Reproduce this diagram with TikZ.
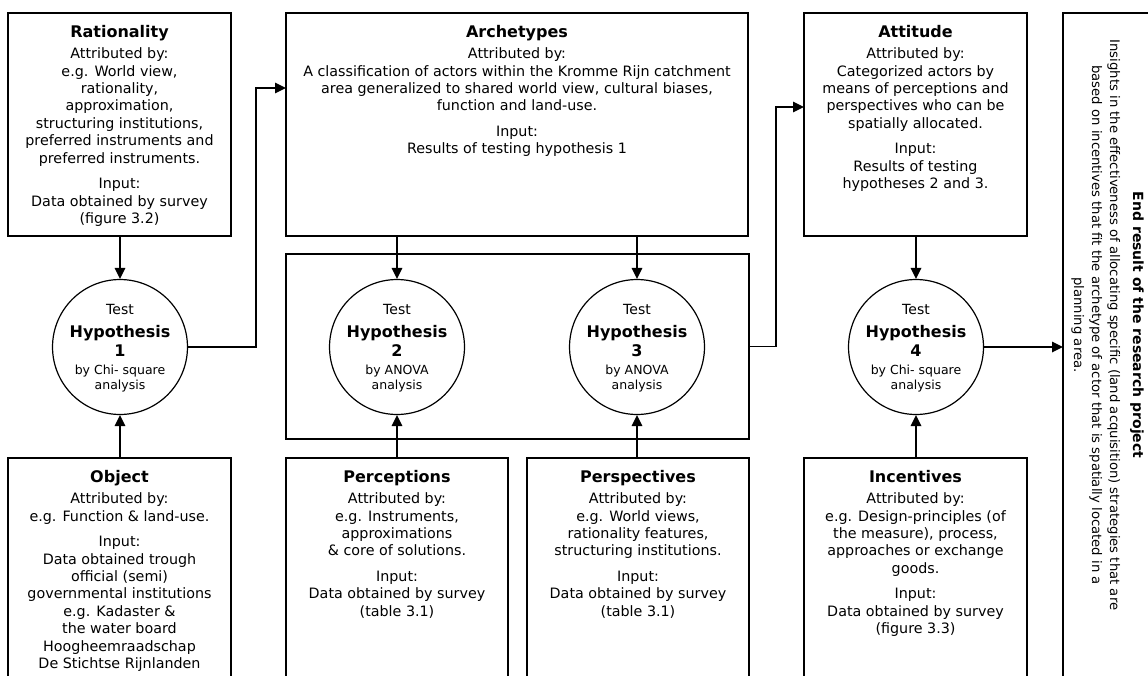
\documentclass[tikz,border=0pt]{standalone}
\usepackage{fontspec}
\setmainfont{DejaVu Sans}
\usetikzlibrary{arrows.meta}
\newcommand\boxtitle[1]{{\bfseries\fontsize{16}{18}\selectfont\rule{0pt}{12.5pt}#1}}
\newcommand\hypbold[1]{{\bfseries\fontsize{16}{19}\selectfont #1}}
\newcommand\hypsmall[1]{{\fontsize{12.5}{15}\selectfont #1}}
\begin{document}
\begin{tikzpicture}[x=1pt,y=-1pt,
  frame/.style={draw, line width=1.1pt, inner sep=0pt, outer sep=0pt},
  txt/.style={align=center, inner sep=0pt, anchor=north, font=\fontsize{14.3}{17.4}\selectfont},
  hyp/.style={circle, draw, line width=1.2pt, minimum size=112pt, inner sep=0pt, align=center, font=\fontsize{14}{16}\selectfont},
  conn/.style={line width=1.7pt, -{Triangle[length=11pt,width=10.5pt]}}]
\useasboundingbox (0,0) rectangle (1148,675);
\clip (0,0) rectangle (1148,675);
% top boxes
\node[frame, minimum width=223pt, minimum height=223pt] (rat) at (119.5,124.5) {};
\node[frame, minimum width=462pt, minimum height=223pt] (arch) at (517,124.5) {};
\node[frame, minimum width=223pt, minimum height=223pt] (att) at (915.5,124.5) {};
\node[frame, minimum width=200pt, minimum height=700pt, anchor=north west] (endb) at (1063,13) {};
% group box
\node[frame, minimum width=463pt, minimum height=185pt] (grp) at (517.5,346.5) {};
% bottom boxes
\node[frame, minimum width=223pt, minimum height=242pt] (obj) at (119.5,579) {};
\node[frame, minimum width=222pt, minimum height=242pt] (perc) at (397,579) {};
\node[frame, minimum width=222pt, minimum height=242pt] (pers) at (638,579) {};
\node[frame, minimum width=223pt, minimum height=242pt] (inc) at (915.5,579) {};
% texts
\node[txt] (ratT) at ([yshift=-12pt]rat.north) {\boxtitle{Rationality}\\[3.6pt]
  Attributed by:\\ e.g. World view,\\ rationality,\\ approximation,\\ structuring institutions,\\ preferred instruments and\\ preferred instruments.\\[8.1pt]
  Input:\\ Data obtained by survey\\ (figure 3.2)};
\node[txt] (archT) at ([yshift=-12pt]arch.north) {\boxtitle{Archetypes}\\[3.6pt]
  Attributed by:\\ A classification of actors within the Kromme Rijn catchment\\ area generalized to shared world view, cultural biases,\\ function and land-use.\\[8.1pt]
  Input:\\ Results of testing hypothesis 1};
\node[txt] (attT) at ([yshift=-12pt]att.north) {\boxtitle{Attitude}\\[3.6pt]
  Attributed by:\\ Categorized actors by\\ means of perceptions and\\ perspectives who can be\\ spatially allocated.\\[8.1pt]
  Input:\\ Results of testing\\ hypotheses 2 and 3.};
\node[txt] (objT) at ([yshift=-12pt]obj.north) {\boxtitle{Object}\\[3.6pt]
  Attributed by:\\ e.g. Function \& land-use.\\[8.1pt]
  Input:\\ Data obtained trough\\ official (semi)\\ governmental institutions\\ e.g. Kadaster \&\\ the water board\\ Hoogheemraadschap\\ De Stichtse Rijnlanden};
\node[txt] (percT) at ([yshift=-12pt]perc.north) {\boxtitle{Perceptions}\\[3.6pt]
  Attributed by:\\ e.g. Instruments,\\ approximations\\ \& core of solutions.\\[8.1pt]
  Input:\\ Data obtained by survey\\ (table 3.1)};
\node[txt] (persT) at ([yshift=-12pt]pers.north) {\boxtitle{Perspectives}\\[3.6pt]
  Attributed by:\\ e.g. World views,\\ rationality features,\\ structuring institutions.\\[8.1pt]
  Input:\\ Data obtained by survey\\ (table 3.1)};
\node[txt] (incT) at ([yshift=-12pt]inc.north) {\boxtitle{Incentives}\\[3.6pt]
  Attributed by:\\ e.g. Design-principles (of\\ the measure), process,\\ approaches or exchange\\ goods.\\[8.1pt]
  Input:\\ Data obtained by survey\\ (figure 3.3)};
\node[rotate=-90, anchor=north, align=center, inner sep=0pt, font=\fontsize{13.2}{18}\selectfont] (endT) at (1144,325)
  {{\bfseries\fontsize{14}{18}\selectfont End result of the research project}\\[5pt]
   Insights in the effectiveness of allocating specific (land acquisition) strategies that are\\
   based on incentives that fit the archetype of actor that is spatially located in a\\
   planning area.};
% hypotheses
\node[hyp] (h1) at (120,347) {\rule{0pt}{12pt}Test\\[7pt]\hypbold{Hypothesis}\\[3pt]\hypbold{1}\\[2pt]\hypsmall{by Chi- square}\\[-1pt]\hypsmall{analysis}};
\node[hyp] (h2) at (397,347) {\rule{0pt}{12pt}Test\\[7pt]\hypbold{Hypothesis}\\[3pt]\hypbold{2}\\[2pt]\hypsmall{by ANOVA}\\[-1pt]\hypsmall{analysis}};
\node[hyp] (h3) at (637,347) {\rule{0pt}{12pt}Test\\[7pt]\hypbold{Hypothesis}\\[3pt]\hypbold{3}\\[2pt]\hypsmall{by ANOVA}\\[-1pt]\hypsmall{analysis}};
\node[hyp] (h4) at (916,347) {\rule{0pt}{12pt}Test\\[7pt]\hypbold{Hypothesis}\\[3pt]\hypbold{4}\\[2pt]\hypsmall{by Chi- square}\\[-1pt]\hypsmall{analysis}};
% helper coordinates
\coordinate (k1) at (256,88);
\coordinate (k2) at (776,107);
% connectors
\draw[conn] (h1.north |- rat.south) -- (h1.north);
\draw[conn] (h2.north |- arch.south) -- (h2.north);
\draw[conn] (h3.north |- arch.south) -- (h3.north);
\draw[conn] (h4.north |- att.south) -- (h4.north);
\draw[conn] (h1.south |- obj.north) -- (h1.south);
\draw[conn] (h2.south |- perc.north) -- (h2.south);
\draw[conn] (h3.south |- pers.north) -- (h3.south);
\draw[conn] (h4.south |- inc.north) -- (h4.south);
\draw[conn] (h1.east) -| (k1) -- (k1 -| arch.west);
\draw[conn] (grp.east) -| (k2) -- (k2 -| att.west);
\draw[conn] (h4.east) -- (h4.east -| endb.west);
\end{tikzpicture}
\end{document}
